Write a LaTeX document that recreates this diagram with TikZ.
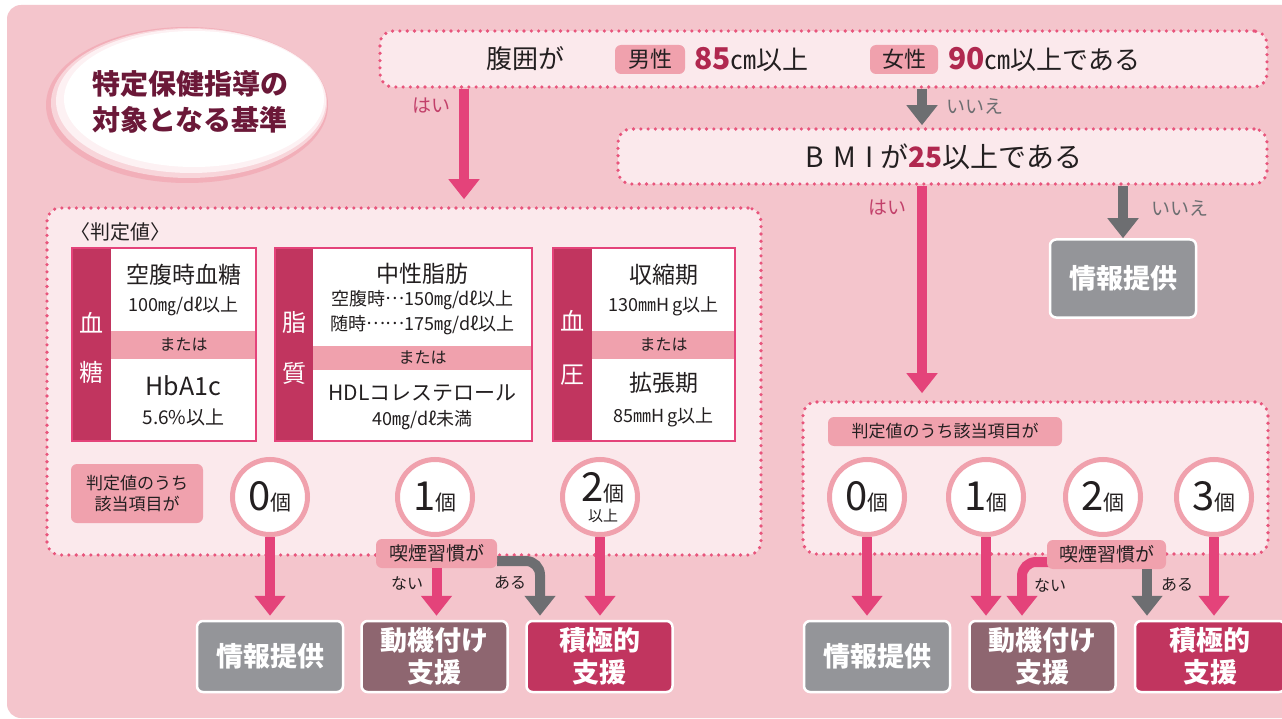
\documentclass[tikz,border=0pt]{standalone}
\usepackage{fontspec}
\setmainfont{Noto Sans CJK JP}
\usetikzlibrary{arrows.meta,positioning}
\definecolor{bgpink}{HTML}{F4C5CC}
\definecolor{boxpink}{HTML}{FBE9EC}
\definecolor{dotpink}{HTML}{E8557C}
\definecolor{arrpink}{HTML}{E4437A}
\definecolor{arrgray}{HTML}{6D6E71}
\definecolor{tagpink}{HTML}{F0A1AD}
\definecolor{stripred}{HTML}{C1355F}
\definecolor{numred}{HTML}{B0284F}
\definecolor{haipink}{HTML}{C2406A}
\definecolor{titlered}{HTML}{6B1838}
\definecolor{infogray}{HTML}{949599}
\definecolor{motivbrown}{HTML}{8E6670}
\definecolor{textdark}{HTML}{231F20}
\newcommand{\fsz}[1]{\fontsize{#1}{\dimexpr #1pt*6/5\relax}\selectfont}
\newcommand{\cnt}[1]{{\fsz{40}#1}{\fsz{21}個}}
\newcommand{\middots}{\raisebox{.3em}{…}}

\begin{document}
\begin{tikzpicture}[x=1pt,y=-1pt,
  every node/.style={text=textdark,inner sep=0pt},
  dotbox/.style={draw=dotpink,fill=boxpink,line width=3.6pt,dash pattern=on 0pt off 7.3pt,line cap=round,rounded corners=13pt},
  tagbox/.style={fill=tagpink,rounded corners=6pt},
  cardline/.style={draw=arrpink,line width=2pt},
  strip/.style={text=white,font=\fsz{24}},
  countcirc/.style={circle,draw=tagpink,fill=white,line width=5pt,minimum size=75pt},
  result/.style={draw=white,line width=2.5pt,rounded corners=6pt,minimum width=146pt,minimum height=71pt,text=white,font=\fsz{27}\bfseries,align=center},
  pinkarrow/.style={draw=arrpink,line width=10pt,-{Triangle[length=20pt,width=30pt]}},
  grayarrow/.style={draw=arrgray,line width=10pt,-{Triangle[length=20pt,width=30pt]}},
  lbl/.style={font=\fsz{16}}]
  \useasboundingbox (0,0) rectangle (1282,719);
  \fill[white] (0,0) rectangle (1282,719);
  \fill[bgpink,rounded corners=14pt] (7,5) rectangle (1300,718);

  % title
  \fill[tagpink!85] (187,105) ellipse [x radius=141,y radius=78];
  \fill[tagpink!45] (189,103) ellipse [x radius=138,y radius=75];
  \fill[tagpink!15] (191,101) ellipse [x radius=135,y radius=72];
  \fill[white] (194,99) ellipse [x radius=130,y radius=68];
  \node[font=\fsz{28}\bfseries,text=titlered,align=center] (title) at (190,102) {特定保健指導の\\[3pt]対象となる基準};

  % question boxes
  \node[dotbox,minimum width=887pt,minimum height=56pt] (waist) at (823.5,59) {};
  \node[dotbox,minimum width=649pt,minimum height=55pt] (bmi) at (942.5,156.5) {};
  \node[dotbox,minimum width=714pt,minimum height=347pt] (judgeL) at (404,381.5) {};
  \node[dotbox,minimum width=465pt,minimum height=152pt] (judgeR) at (1035.5,478) {};

  \node[font=\fsz{26}] (waistq) at (525,59) {腹囲が};
  \node[tagbox,minimum width=70pt,minimum height=29pt,font=\fsz{22}] (male) at (650,59.5) {男性};
  \node[anchor=west,font=\fsz{26}] (maleval) at (694,59) {\textcolor{numred}{\fsz{30}\bfseries 85}㎝以上};
  \node[tagbox,minimum width=68pt,minimum height=29pt,font=\fsz{22}] (female) at (904,59.5) {女性};
  \node[anchor=west,font=\fsz{26}] (femaleval) at (948,59) {\textcolor{numred}{\fsz{30}\bfseries 90}㎝以上である};
  \node[font=\fsz{28}] (bmiq) at (944,157) {B\hspace{9pt}M\hspace{9pt}I\hspace{7pt}が\textcolor{numred}{\bfseries 25}以上である};

  % results
  \node[result,fill=infogray,minimum height=78pt] (infoTop) at (1123,278.5) {情報提供};
  \node[result,fill=infogray] (infoL) at (270,656.5) {情報提供};
  \node[result,fill=motivbrown] (motivL) at (434.5,656.5) {動機付け\\支援};
  \node[result,fill=stripred] (activeL) at (599.5,656.5) {積極的\\支援};
  \node[result,fill=infogray] (infoR) at (877,656.5) {情報提供};
  \node[result,fill=motivbrown] (motivR) at (1042.5,656.5) {動機付け\\支援};
  \node[result,fill=stripred,minimum width=150pt] (activeR) at (1210,656.5) {積極的\\支援};

  % arrows from the questions
  \coordinate (haiL) at (464,0);
  \coordinate (midR) at (922,0);
  \coordinate (iieR) at (1123,0);
  \draw[pinkarrow,shorten >=7pt] (waist.south -| haiL) -- (judgeL.north -| haiL);
  \draw[grayarrow,shorten >=2pt] (waist.south -| midR) -- (bmi.north -| midR);
  \draw[pinkarrow,shorten >=7pt] (bmi.south -| midR) -- (judgeR.north -| midR);
  \draw[grayarrow] (bmi.south -| iieR) -- (infoTop.north);
  \node[font=\fsz{19},text=haipink] (haiLt) at (431,106) {はい};
  \node[font=\fsz{19},text=arrgray] (iieAt) at (975,106) {いいえ};
  \node[font=\fsz{19},text=haipink] (haiRt) at (887,208) {はい};
  \node[font=\fsz{19},text=arrgray] (iieBt) at (1180,208) {いいえ};

  % criteria cards
  \node[font=\fsz{20}] (judgetitle) at (120,232) {〈判定値〉};
  \foreach \xa/\xb/\xc/\ya/\yb in {72/111/256/331/359,275/313/532/346/370,553/592/735/331/359}{
    \fill[white] (\xa,248) rectangle (\xc,441);
    \fill[stripred] (\xa,248) rectangle (\xb,441);
    \fill[tagpink] (\xb,\ya) rectangle (\xc,\yb);
    \draw[cardline] (\xa,248) rectangle (\xc,441);
    \node[font=\fsz{16}] at ({(\xb+\xc)/2},{(\ya+\yb)/2}) {または};
  }
  \node[strip] (sugarA) at (91.5,323) {血};
  \node[strip] (sugarB) at (91.5,372) {糖};
  \node[font=\fsz{23}] (fbs) at (183.5,275) {空腹時血糖};
  \node[font=\fsz{18}] (fbsval) at (183.5,306) {100㎎/dℓ以上};
  \node[font=\fsz{25}] (hba) at (183.5,386) {HbA1c};
  \node[font=\fsz{19}] (hbaval) at (183.5,417) {5.6\%以上};

  \node[strip] (lipidA) at (294,322) {脂};
  \node[strip] (lipidB) at (294,373) {質};
  \node[font=\fsz{23}] (tg) at (422.5,274) {中性脂肪};
  \node[font=\fsz{18}] (tgfast) at (422.5,300) {空腹時\middots 150㎎/dℓ以上};
  \node[font=\fsz{18}] (tgany) at (422.5,325) {随時\middots\middots 175㎎/dℓ以上};
  \node[font=\fsz{21}] (hdl) at (422.5,393) {HDLコレステロール};
  \node[font=\fsz{18}] (hdlval) at (422.5,420) {40㎎/dℓ未満};

  \node[strip] (pressA) at (572.5,321) {血};
  \node[strip] (pressB) at (572.5,375) {圧};
  \node[font=\fsz{23}] (sys) at (663.5,275) {収縮期};
  \node[font=\fsz{18}] (sysval) at (663.5,306) {130㎜H\,g以上};
  \node[font=\fsz{23}] (dia) at (663.5,383) {拡張期};
  \node[font=\fsz{18}] (diaval) at (663.5,417) {85㎜H\,g以上};

  % counts, left
  \node[tagbox,minimum width=132pt,minimum height=59pt,font=\fsz{17},align=center] (countL) at (137,493.5) {判定値のうち\\該当項目が};
  \node[countcirc] (cL0) at (270,497) {\cnt{0}};
  \node[countcirc] (cL1) at (435,497) {\cnt{1}};
  \node[countcirc] (cL2) at (600,497) {};
  \node (cL2num) at (603,488) {\cnt{2}};
  \node[font=\fsz{15}] (cL2sub) at (603,516) {以上};
  \coordinate (aruL) at (540,0);
  \draw[pinkarrow,shorten >=4pt] (cL0.south) -- (cL0.south |- infoL.north);
  \draw[grayarrow,rounded corners=14pt,shorten >=4pt] (497,561) -| (aruL |- activeL.north);
  \node[tagbox,minimum width=121pt,minimum height=29pt,font=\fsz{19}] (smokeL) at (436.5,553.5) {喫煙習慣が};
  \draw[pinkarrow,shorten >=4pt] (smokeL.south) -- (smokeL.south |- motivL.north);
  \draw[pinkarrow,shorten >=4pt] (cL2.south) -- (cL2.south |- activeL.north);
  \node[lbl] (naiL) at (407,583) {ない};
  \node[lbl] (aruLt) at (510,583) {ある};

  % counts, right
  \node[tagbox,minimum width=234pt,minimum height=29pt,font=\fsz{17}] (countR) at (945,431.5) {判定値のうち該当項目が};
  \foreach \n/\x in {0/867,1/986,2/1103,3/1214}
    \node[countcirc] (cR\n) at (\x,497) {\cnt{\n}};
  \coordinate (naiR) at (1022,0);
  \coordinate (aruR) at (1147,0);
  \draw[pinkarrow,shorten >=4pt] (cR0.south) -- (cR0.south |- infoR.north);
  \draw[pinkarrow,shorten >=4pt] (cR1.south) -- (cR1.south |- motivR.north);
  \draw[pinkarrow,rounded corners=14pt,shorten >=4pt] (1052,562) -| (naiR |- motivR.north);
  \node[tagbox,minimum width=119pt,minimum height=29pt,font=\fsz{19}] (smokeR) at (1106.5,554.5) {喫煙習慣が};
  \draw[grayarrow,shorten >=4pt] (aruR |- smokeR.south) -- (aruR |- activeR.north);
  \draw[pinkarrow,shorten >=4pt] (cR3.south) -- (cR3.south |- activeR.north);
  \node[lbl] (naiRt) at (1050,585) {ない};
  \node[lbl] (aruRt) at (1177,585) {ある};
\end{tikzpicture}
\end{document}
